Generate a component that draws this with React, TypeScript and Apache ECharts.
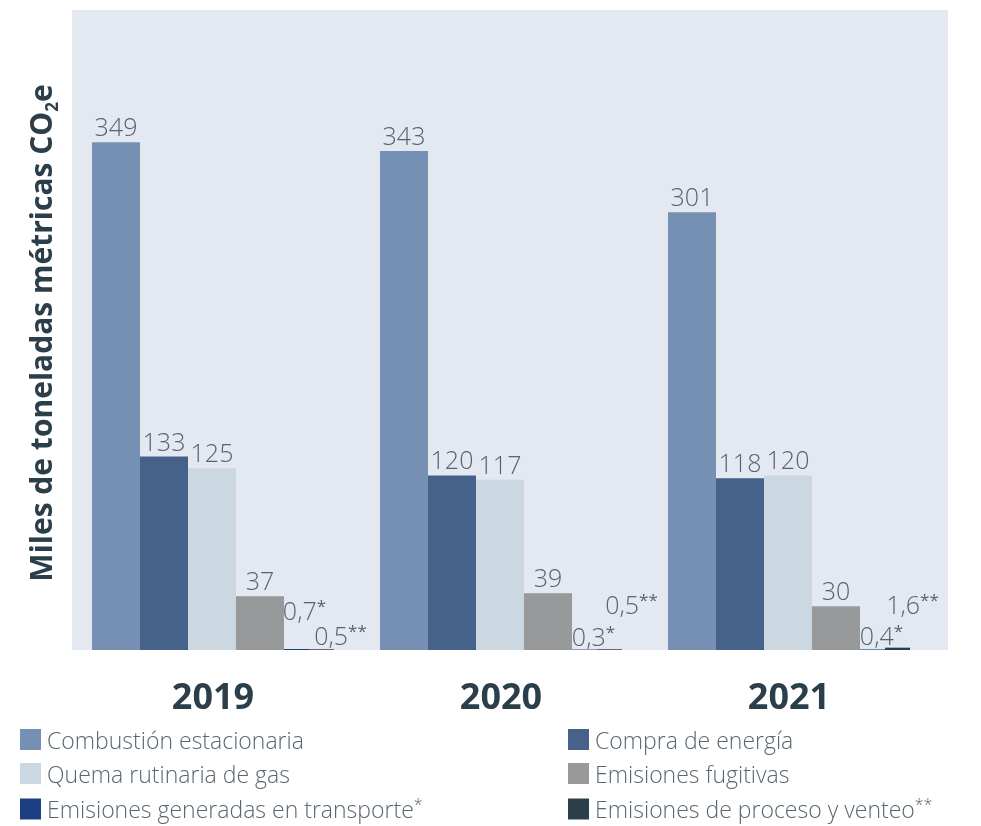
import React, { useEffect, useRef } from "react";
import * as echarts from "echarts";

const years = ["2019", "2020", "2021"];
const seriesNames = [
  "Combustión estacionaria",
  "Compra de energía",
  "Quema rutinaria de gas",
  "Emisiones fugitivas",
  "Emisiones generadas en transporte",
  "Emisiones de proceso y venteo",
];
const seriesMarks = ["", "", "", "", "*", "**"];
const combustion = [349, 343, 301];
const compra = [133, 120, 118];
const quema = [125, 117, 120];
const fugitivas = [37, 39, 30];
const transporte = [0.7, 0.3, 0.4];
const proceso = [0.5, 0.5, 1.6];
const allValues = [combustion, compra, quema, fugitivas, transporte, proceso];

const colors = ["#7690b4", "#46628a", "#cbd8e2", "#98999b", "#1b3f80", "#2a3f4a"];
const barWidths = [48, 48, 48, 48, 25, 25];
// label offsets for the tiny bars (transport, proceso) per year
const smallOffsets: Record<number, number[][]> = {
  4: [[8, -23], [9, 2], [9, 2]],
  5: [[19, 2], [22, -29], [15, -28]],
};

const FONT = "Open Sans";

export default function App() {
  const ref = useRef<HTMLDivElement>(null);
  useEffect(() => {
    if (!ref.current) return;
    const chart = echarts.init(ref.current, null, { renderer: "svg" });
    const series = allValues.map((vals, si) => ({
      name: seriesNames[si],
      type: "bar",
      barWidth: barWidths[si],
      barGap: "0%",
      itemStyle: { color: colors[si] },
      data: vals.map((v, i) => {
        const item: any = { value: v };
        if (smallOffsets[si]) item.label = { offset: smallOffsets[si][i] };
        return item;
      }),
      label: {
        show: true,
        position: "top",
        distance: 3,
        formatter: (p: any) => {
          const t = String(p.value).replace(".", ",");
          return seriesMarks[si] ? `{v|${t}}{s|${seriesMarks[si]}}` : `{v|${t}}`;
        },
        rich: {
          v: { fontFamily: FONT, fontSize: 25, lineHeight: 26, color: "#56646e", fontWeight: 300 },
          s: { fontFamily: FONT, fontSize: 17, lineHeight: 17, color: "#56646e", verticalAlign: "top" },
        },
      },
    }));
    const legendText = {
      fontFamily: FONT,
      fontSize: 23,
      color: "#5a6770",
      fontWeight: 300,
      padding: [0, 0, 0, 1],
      rich: {
        t: { fontFamily: FONT, fontSize: 23, lineHeight: 26, color: "#5a6770", fontWeight: 300 },
        s: { fontFamily: FONT, fontSize: 16, lineHeight: 16, color: "#5a6770", verticalAlign: "top" },
      },
    };
    const legendFormatter = (name: string) => {
      const idx = seriesNames.indexOf(name);
      return seriesMarks[idx] ? `{t|${name}}{s|${seriesMarks[idx]}}` : `{t|${name}}`;
    };
    const legendBase = {
      orient: "vertical",
      top: 728,
      padding: 0,
      itemWidth: 21,
      itemHeight: 21,
      itemGap: 11,
      icon: "rect",
      textStyle: legendText,
      formatter: legendFormatter,
    };
    chart.setOption({
      animation: false,
      grid: { left: 69, width: 864, top: 10, bottom: 176 },
      graphic: [
        {
          type: "rect",
          z: -10,
          shape: { x: 72, y: 10, width: 876, height: 640 },
          style: { fill: "#e4e8f1" },
          silent: true,
        },
        {
          type: "text",
          x: 40,
          y: 333,
          rotation: Math.PI / 2,
          style: {
            text: "{a|Miles de toneladas métricas CO}{b|2}{a|e}",
            align: "center",
            verticalAlign: "middle",
            rich: {
              a: { fontFamily: FONT, fontSize: 30, lineHeight: 40, fontWeight: "bold", fill: "#2b3e4a", color: "#2b3e4a" },
              b: { fontFamily: FONT, fontSize: 17, lineHeight: 18, fontWeight: "bold", fill: "#2b3e4a", color: "#2b3e4a", verticalAlign: "bottom" },
            },
          },
        },
      ],
      xAxis: {
        type: "category",
        data: years,
        axisLine: { show: false },
        axisTick: { show: false },
        axisLabel: {
          margin: 27,
          fontFamily: FONT,
          fontSize: 36,
          fontWeight: "bold",
          color: "#2b3e4a",
        },
      },
      yAxis: {
        type: "value",
        min: 0,
        max: 440,
        show: false,
        splitLine: { show: false },
      },
      legend: [
        { ...legendBase, left: 20, data: [seriesNames[0], seriesNames[2], seriesNames[4]] },
        { ...legendBase, left: 568, data: [seriesNames[1], seriesNames[3], seriesNames[5]] },
      ],
      series,
    });
    return () => chart.dispose();
  }, []);
  return (
    <div
      ref={ref}
      style={{ position: "fixed", left: 0, top: 0, width: 981, height: 826 }}
    />
  );
}
